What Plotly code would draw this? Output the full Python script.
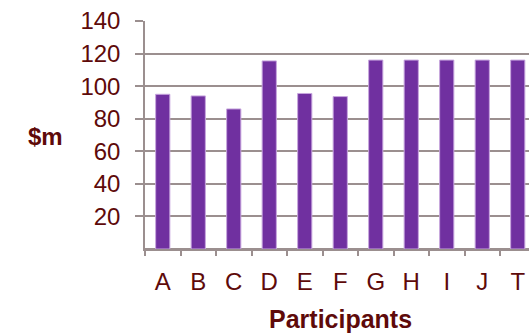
import plotly.graph_objects as go

# Funding per participant ($m)
participants = ["A", "B", "C", "D", "E", "F", "G", "H", "I", "J", "T"]
funding = [95, 94, 86, 115.5, 95.5, 93.6, 116, 116, 116, 116, 116]
y_ticks = [20, 40, 60, 80, 100, 120, 140]

text_color = "#5E0A0A"
grid_color = "#9B8F8F"
font_family = "Liberation Sans, Arial, sans-serif"

fig = go.Figure(
    go.Bar(
        x=participants,
        y=funding,
        width=0.4,
        marker=dict(color="#7030A0", line=dict(color="#C7A6DE", width=1)),
    )
)

fig.update_layout(
    width=529,
    height=334,
    margin=dict(l=145, r=0, t=21, b=85),
    paper_bgcolor="white",
    plot_bgcolor="white",
    showlegend=False,
    font=dict(family=font_family, color=text_color, size=24),
    bargap=0.6,
)

fig.update_xaxes(
    type="category",
    range=[-0.5, 10.317],
    showgrid=False,
    showline=True,
    linecolor=grid_color,
    linewidth=1.5,
    ticks="outside",
    tickson="boundaries",
    ticklen=5,
    tickwidth=1.5,
    tickcolor=grid_color,
    tickfont=dict(size=24, color=text_color),
    ticklabelstandoff=10,
)

fig.update_yaxes(
    range=[0, 140],
    tickvals=y_ticks,
    showgrid=True,
    gridcolor=grid_color,
    gridwidth=1.5,
    zeroline=True,
    zerolinecolor=grid_color,
    zerolinewidth=1.5,
    showline=True,
    linecolor=grid_color,
    linewidth=1.5,
    ticks="outside",
    ticklen=8,
    tickwidth=1.5,
    tickcolor=grid_color,
    tickfont=dict(size=24, color=text_color),
    ticklabelstandoff=10,
)

# Axis titles
fig.add_annotation(
    text="<b>Participants</b>", xref="paper", yref="paper",
    x=(340 - 145) / 384, y=-(319 - 249.3) / 228.3,
    showarrow=False, font=dict(size=25, color=text_color),
    xanchor="center", yanchor="middle",
)
fig.add_annotation(
    text="<b>$m</b>", xref="paper", yref="paper",
    x=-(145 - 45) / 384, y=(249.3 - 137) / 228.3,
    showarrow=False, font=dict(size=24, color=text_color),
    xanchor="center", yanchor="middle",
)

fig.write_html("out.html")
